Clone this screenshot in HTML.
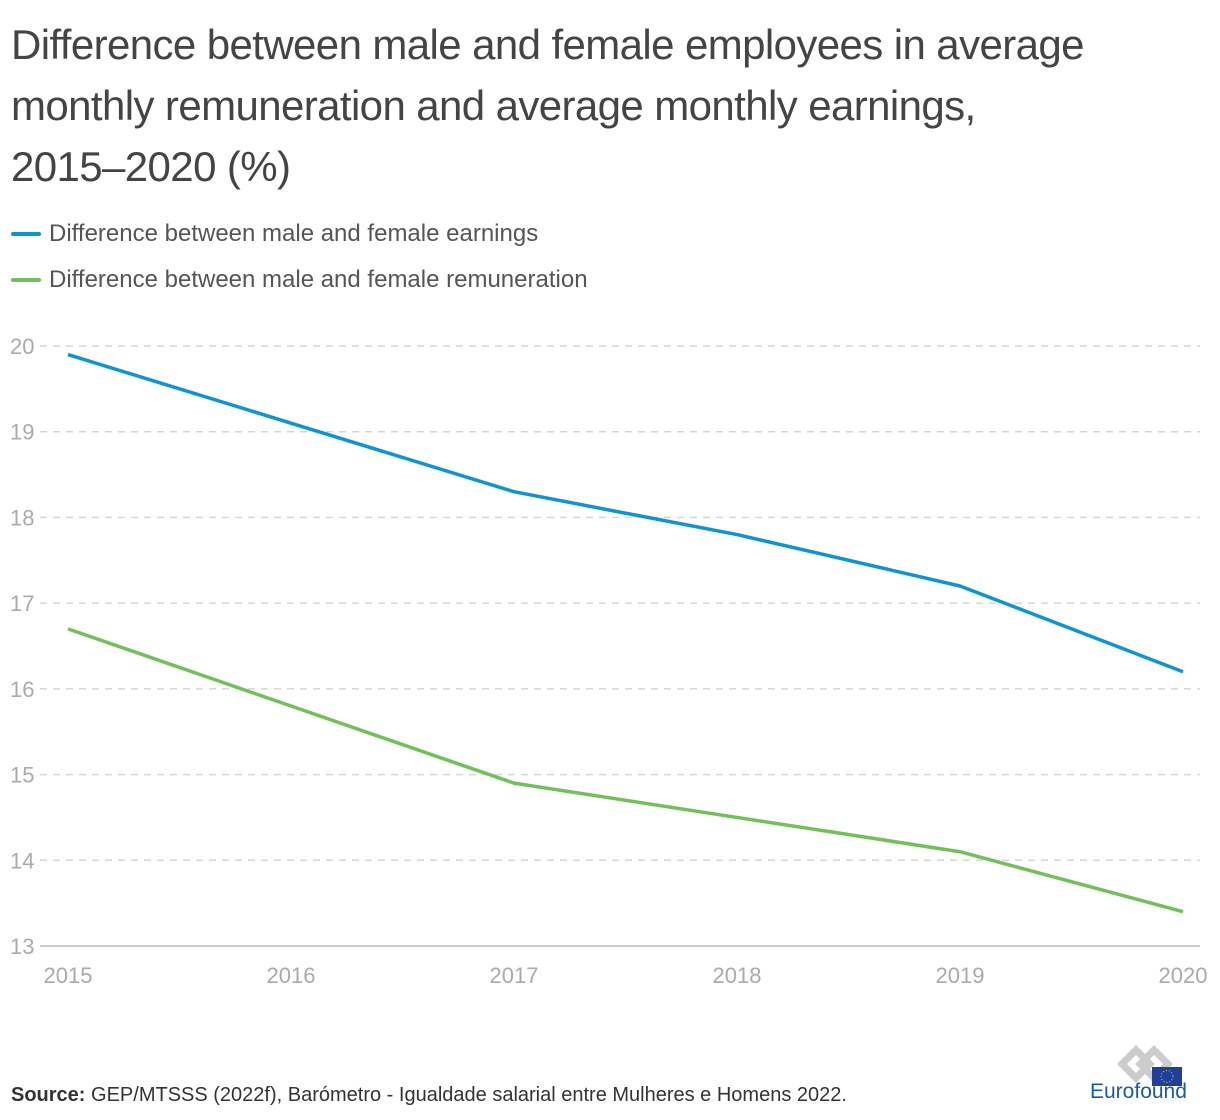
<!DOCTYPE html>
<html><head><meta charset="utf-8"><style>
body{margin:0;width:1220px;height:1120px;background:#fff;font-family:"Liberation Sans",sans-serif;overflow:hidden;position:relative}
h1{position:absolute;left:11px;top:14px;margin:0;font-weight:normal;font-size:42px;line-height:61px;color:#444;width:1175px;letter-spacing:-0.6px}
.leg{position:absolute;left:11px;font-size:24px;color:#555;display:flex;align-items:center}
.leg span.sw{display:inline-block;width:30px;height:4px;margin-right:8px;border-radius:2px}
.src{position:absolute;left:11px;top:1084px;font-size:20px;color:#333}
</style></head><body>
<h1>Difference between male and female employees in average monthly remuneration and average monthly earnings,<br>2015–2020 (%)</h1>
<div class="leg" style="top:220px"><span class="sw" style="background:#0e94d2"></span>Difference between male and female earnings</div>
<div class="leg" style="top:266px"><span class="sw" style="background:#72c05a"></span>Difference between male and female remuneration</div>
<svg id="chart" width="1220" height="1010" style="position:absolute;left:0;top:0"></svg>
<div class="src"><b>Source:</b> GEP/MTSSS (2022f), Barómetro - Igualdade salarial entre Mulheres e Homens 2022.</div>
<div style="position:absolute;left:1088px;top:1036px;width:110px;height:70px">
<svg width="110" height="70" style="position:absolute;left:0;top:0"><g fill="none" stroke="#ccc" stroke-width="7"><path d="M34 28 l14 -14 l14 14 l-14 14z"/><path d="M52 28 l14 -14 l14 14 l-14 14z"/></g><rect x="64" y="31" width="30" height="19" fill="#1f3f9a"/><circle cx="79" cy="40.5" r="6" fill="none" stroke="#f5d100" stroke-dasharray="1 2"/></svg>
<div style="position:absolute;left:2px;top:44px;font-size:21px;color:#1a5aa8">Eurofound</div></div>
<script>
const years=[2015,2016,2017,2018,2019,2020];
const earnings=[19.9,19.1,18.3,17.8,17.2,16.2];
const remuneration=[16.7,15.8,14.9,14.5,14.1,13.4];
const yTicks=[13,14,15,16,17,18,19,20];
const NS="http://www.w3.org/2000/svg";
const svg=document.getElementById('chart');
const x=i=>68+i*(1183-68)/(years.length-1);
const y=v=>946-(v-13)*(600/7);
function el(t,a){const e=document.createElementNS(NS,t);for(const k in a)e.setAttribute(k,a[k]);svg.appendChild(e);return e;}
yTicks.forEach(t=>{
 const l=el('line',{x1:40,x2:1200,y1:y(t),y2:y(t),stroke:t==13?'#bbb':'#d6d6d6','stroke-width':1.5,'stroke-dasharray':t==13?'':'7 6'});
 
 
 const tx=el('text',{x:10,y:y(t)+8,'font-size':22,fill:'#aaa','font-family':'Liberation Sans'});
 tx.textContent=t;
 
 
});
years.forEach((yr,i)=>{
 const tx=el('text',{x:x(i),y:983,'font-size':22,fill:'#aaa','text-anchor':'middle','font-family':'Liberation Sans'});
 tx.textContent=yr;
 
 
});
[[earnings,'#0e94d2','earnings-line'],[remuneration,'#72c05a','remuneration-line']].forEach(([d,c,n])=>{
 const p=el('polyline',{points:d.map((v,i)=>x(i)+','+y(v)).join(' '),fill:'none',stroke:c,'stroke-width':3.5,'stroke-linejoin':'round'});
 
 
});
</script>
</body></html>
